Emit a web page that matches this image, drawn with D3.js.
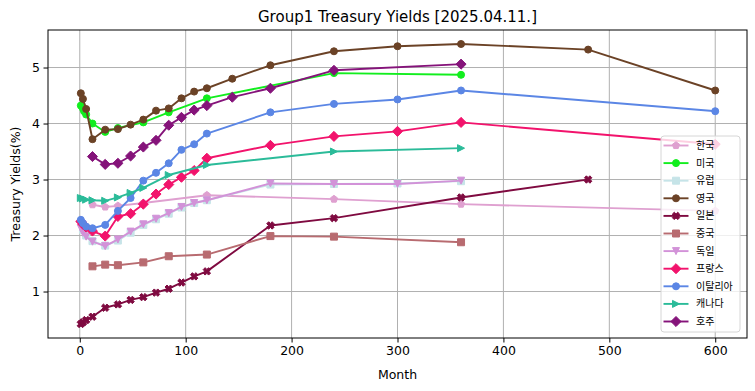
<!DOCTYPE html>
<html>
<head>
<meta charset="utf-8">
<script src="https://cdn.jsdelivr.net/npm/d3@7"></script>
<style>
  html, body { margin: 0; padding: 0; background: #fff; }
  svg { display: block; }
  text { font-family: "DejaVu Sans", sans-serif; fill: #000; }
  .leg text { font-family: "Noto Sans CJK KR", sans-serif; }
</style>
</head>
<body>
<svg id="chart" width="755" height="391"></svg>
<script>
// ---------------- data ----------------
const titleText = "Group1 Treasury Yields [2025.04.11.]";
const xLabel = "Month";
const yLabel = "Treasury Yields(%)";
const xTicks = [0, 100, 200, 300, 400, 500, 600];
const yTicks = [1, 2, 3, 4, 5];

const seriesNames = ["한국", "미국", "유럽", "영국", "일본", "중국", "독일", "프랑스", "이탈리아", "캐나다", "호주"];

const koreaMonths = [12, 24, 36, 60, 120, 240, 360, 600];
const koreaYields = [2.55, 2.51, 2.53, 2.58, 2.72, 2.65, 2.56, 2.44];

const usMonths = [1, 2, 3, 4, 6, 12, 24, 36, 60, 84, 120, 240, 360];
const usYields = [4.32, 4.31, 4.27, 4.22, 4.16, 4.00, 3.85, 3.92, 4.02, 4.20, 4.45, 4.90, 4.87];

const europeMonths = [3, 6, 12, 24, 36, 48, 60, 72, 84, 96, 108, 120, 180, 240, 300, 360];
const europeYields = [2.10, 2.00, 1.90, 1.82, 1.91, 2.05, 2.19, 2.29, 2.39, 2.50, 2.58, 2.63, 2.91, 2.92, 2.93, 2.97];

const ukMonths = [1, 3, 6, 12, 24, 36, 48, 60, 72, 84, 96, 108, 120, 144, 180, 240, 300, 360, 480, 600];
const ukYields = [4.54, 4.44, 4.26, 3.72, 3.89, 3.90, 3.98, 4.07, 4.23, 4.27, 4.45, 4.57, 4.63, 4.80, 5.04, 5.29, 5.38, 5.42, 5.32, 4.59];

const japanMonths = [1, 3, 6, 12, 24, 36, 48, 60, 72, 84, 96, 108, 120, 180, 240, 360, 480];
const japanYields = [0.42, 0.45, 0.49, 0.55, 0.71, 0.77, 0.85, 0.90, 0.98, 1.05, 1.16, 1.27, 1.36, 2.18, 2.31, 2.68, 3.00];

const chinaMonths = [12, 24, 36, 60, 84, 120, 180, 240, 360];
const chinaYields = [1.45, 1.48, 1.47, 1.52, 1.63, 1.66, 1.99, 1.98, 1.88];

const germanyMonths = [1, 3, 6, 12, 24, 36, 48, 60, 72, 84, 96, 108, 120, 180, 240, 300, 360];
const germanyYields = [2.13, 2.05, 1.98, 1.89, 1.81, 1.93, 2.07, 2.20, 2.30, 2.40, 2.51, 2.58, 2.63, 2.93, 2.92, 2.92, 2.98];

const franceMonths = [1, 3, 6, 12, 24, 36, 48, 60, 72, 84, 96, 108, 120, 180, 240, 300, 360, 600];
const franceYields = [2.25, 2.20, 2.15, 2.08, 1.99, 2.34, 2.39, 2.56, 2.74, 2.91, 3.04, 3.16, 3.38, 3.61, 3.77, 3.86, 4.02, 3.63];

const italyMonths = [1, 3, 6, 12, 24, 36, 48, 60, 72, 84, 96, 108, 120, 180, 240, 300, 360, 600];
const italyYields = [2.28, 2.22, 2.16, 2.13, 2.19, 2.44, 2.67, 2.98, 3.12, 3.29, 3.53, 3.63, 3.82, 4.20, 4.35, 4.43, 4.59, 4.22];

const canadaMonths = [1, 3, 6, 12, 24, 36, 48, 60, 84, 120, 240, 360];
const canadaYields = [2.67, 2.66, 2.64, 2.63, 2.62, 2.68, 2.76, 2.85, 3.08, 3.26, 3.50, 3.56];

const australiaMonths = [12, 24, 36, 48, 60, 72, 84, 96, 108, 120, 144, 180, 240, 360];
const australiaYields = [3.41, 3.27, 3.29, 3.42, 3.58, 3.70, 3.97, 4.11, 4.24, 4.32, 4.47, 4.63, 4.95, 5.06];

// ---------------- styles ----------------
const seriesColors = ["#dfa0d0", "#12ee1e", "#c6e4e8", "#6b4226", "#7f0a40", "#b86b70",
                      "#d292d8", "#f2136c", "#5b86e5", "#2bbb99", "#85137a"];
const seriesMarkers = ["pentagon", "circle", "square", "circle", "xfill", "square",
                       "tridown", "diamond", "circle", "triright", "diamond"];

const monthsList = [koreaMonths, usMonths, europeMonths, ukMonths, japanMonths, chinaMonths,
                    germanyMonths, franceMonths, italyMonths, canadaMonths, australiaMonths];
const yieldsList = [koreaYields, usYields, europeYields, ukYields, japanYields, chinaYields,
                    germanyYields, franceYields, italyYields, canadaYields, australiaYields];

const series = seriesNames.map((name, i) => ({
  name, color: seriesColors[i], marker: seriesMarkers[i],
  points: monthsList[i].map((m, j) => ({ m, v: yieldsList[i][j] }))
}));

// ---------------- layout ----------------
const W = 755, H = 391;
const plot = { left: 48, right: 747, top: 30, bottom: 338 };

const allM = series.flatMap(s => s.points.map(p => p.m));
const allV = series.flatMap(s => s.points.map(p => p.v));
const [mMin, mMax] = d3.extent(allM);
const [vMin, vMax] = d3.extent(allV);
const mPad = (mMax - 0) * 0.05, vPad = (vMax - vMin) * 0.05;

const x = d3.scaleLinear().domain([0 - mPad, mMax + mPad]).range([plot.left, plot.right]);
const y = d3.scaleLinear().domain([vMin - vPad, vMax + vPad]).range([plot.bottom, plot.top]);

const svg = d3.select("#chart");

// grid
const grid = svg.append("g");
grid.selectAll("line.gx").data(xTicks).join("line")
  .attr("x1", d => x(d)).attr("x2", d => x(d))
  .attr("y1", plot.top).attr("y2", plot.bottom)
  .attr("stroke", "#b0b0b0").attr("stroke-width", 1);
grid.selectAll("line.gy").data(yTicks).join("line")
  .attr("y1", d => y(d)).attr("y2", d => y(d))
  .attr("x1", plot.left).attr("x2", plot.right)
  .attr("stroke", "#b0b0b0").attr("stroke-width", 1);

// markers
const MS = 7;
function markerPath(type, s) {
  const h = s / 2;
  switch (type) {
    case "circle": return d3.symbol(d3.symbolCircle, Math.PI * h * h)();
    case "square": return `M${-h},${-h}H${h}V${h}H${-h}Z`;
    case "diamond": { const d = s * 0.72; return `M0,${-d}L${d},0L0,${d}L${-d},0Z`; }
    case "tridown": return `M${-h},${-h}L${h},${-h}L0,${h}Z`;
    case "triright": return `M${-h},${-h}L${h},0L${-h},${h}Z`;
    case "pentagon": {
      const r = h * 1.08;
      const pts = d3.range(5).map(k => {
        const a = -Math.PI / 2 + k * 2 * Math.PI / 5;
        return [r * Math.cos(a), r * Math.sin(a)];
      });
      return "M" + pts.map(p => p.join(",")).join("L") + "Z";
    }
    case "xfill": {
      const a = s * 0.55, w = s * 0.2;
      const plus = [[-w, -a], [w, -a], [w, -w], [a, -w], [a, w], [w, w], [w, a], [-w, a], [-w, w], [-a, w], [-a, -w], [-w, -w]];
      const c = Math.SQRT1_2;
      const rot = plus.map(([px, py]) => [px * c - py * c, px * c + py * c]);
      return "M" + rot.map(p => p.join(",")).join("L") + "Z";
    }
  }
}

// series
const line = d3.line().x(d => x(d.m)).y(d => y(d.v));
const plotG = svg.append("g");
series.forEach(s => {
  const g = plotG.append("g");
  g.append("path").datum(s.points)
    .attr("d", line).attr("fill", "none")
    .attr("stroke", s.color).attr("stroke-width", 1.9)
    .attr("stroke-linejoin", "round").attr("stroke-linecap", "square");
  g.selectAll("path.mk").data(s.points).join("path")
    .attr("class", "mk")
    .attr("d", markerPath(s.marker, MS))
    .attr("transform", d => `translate(${x(d.m)},${y(d.v)})`)
    .attr("fill", s.color).attr("stroke", s.color).attr("stroke-width", 1);
});

// frame
svg.append("rect")
  .attr("x", plot.left).attr("y", plot.top)
  .attr("width", plot.right - plot.left).attr("height", plot.bottom - plot.top)
  .attr("fill", "none").attr("stroke", "#000").attr("stroke-width", 1);

// axes
const xAxis = d3.axisBottom(x).tickValues(xTicks).tickSize(4.5).tickPadding(3.5).tickFormat(d3.format("d"));
const gx = svg.append("g").attr("transform", `translate(0,${plot.bottom})`).call(xAxis);
gx.select(".domain").remove();
gx.selectAll("text").attr("font-size", 12.5).attr("font-family", "DejaVu Sans");

const yAxis = d3.axisLeft(y).tickValues(yTicks).tickSize(4.5).tickPadding(3.5).tickFormat(d3.format("d"));
const gy = svg.append("g").attr("transform", `translate(${plot.left},0)`).call(yAxis);
gy.select(".domain").remove();
gy.selectAll("text").attr("font-size", 12.5).attr("font-family", "DejaVu Sans");

// labels
svg.append("text").attr("x", (plot.left + plot.right) / 2).attr("y", 22)
  .attr("text-anchor", "middle").attr("font-size", 15).text(titleText);
svg.append("text").attr("x", (plot.left + plot.right) / 2).attr("y", 379)
  .attr("text-anchor", "middle").attr("font-size", 12.5).text(xLabel);
svg.append("text")
  .attr("transform", `translate(20,${(plot.top + plot.bottom) / 2}) rotate(-90)`)
  .attr("text-anchor", "middle").attr("font-size", 12.5).text(yLabel);

// legend
const leg = svg.append("g").attr("class", "leg");
const lx = 661, ly = 136, lw = 79, lh = 196, rowH = 17.6;
leg.append("rect").attr("x", lx).attr("y", ly).attr("width", lw).attr("height", lh)
  .attr("rx", 3).attr("fill", "#fff").attr("fill-opacity", 0.8)
  .attr("stroke", "#d6d6d6").attr("stroke-width", 1);
series.forEach((s, i) => {
  const cy = ly + 9.5 + i * rowH;
  leg.append("line").attr("x1", lx + 2.5).attr("x2", lx + 27.5).attr("y1", cy).attr("y2", cy)
    .attr("stroke", s.color).attr("stroke-width", 1.9);
  leg.append("path").attr("d", markerPath(s.marker, MS))
    .attr("transform", `translate(${lx + 15},${cy})`)
    .attr("fill", s.color).attr("stroke", s.color).attr("stroke-width", 1);
  leg.append("text").attr("x", lx + 35).attr("y", cy).attr("dy", "0.35em")
    .attr("font-size", 10).text(s.name);
});
</script>
</body>
</html>
